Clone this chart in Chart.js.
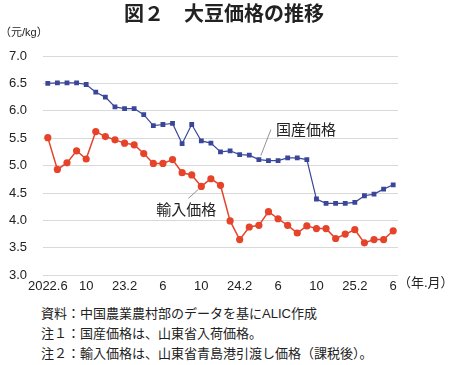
<!DOCTYPE html>
<html>
<head>
<meta charset="utf-8">
<script src="https://cdn.jsdelivr.net/npm/chart.js@4"></script>
<style>
  body { margin: 0; background: #fff; }
  #wrap { position: relative; width: 450px; height: 365px; }
  #chart { position: absolute; left: 0; top: 0; }
  .note { position: absolute; left: 41px; font: 13px "Liberation Sans", "Noto Sans CJK JP", sans-serif; color: #222; white-space: nowrap; }
</style>
</head>
<body>
<div id="wrap">
  <canvas id="chart" width="450" height="299"></canvas>
  <div class="note" style="top:303px">資料：中国農業農村部のデータを基にALIC作成</div>
  <div class="note" style="top:323px">注１：国産価格は、山東省入荷価格。</div>
  <div class="note" style="top:343px">注２：輸入価格は、山東省青島港引渡し価格（課税後）。</div>
</div>
<script>
const MONTHS = [
  '2022.6', '2022.7', '2022.8', '2022.9', '2022.10', '2022.11', '2022.12',
  '2023.1', '2023.2', '2023.3', '2023.4', '2023.5', '2023.6', '2023.7', '2023.8', '2023.9', '2023.10', '2023.11', '2023.12',
  '2024.1', '2024.2', '2024.3', '2024.4', '2024.5', '2024.6', '2024.7', '2024.8', '2024.9', '2024.10', '2024.11', '2024.12',
  '2025.1', '2025.2', '2025.3', '2025.4', '2025.5', '2025.6',
];
const TICK_LABELS = ['2022.6', '10', '23.2', '6', '10', '24.2', '6', '10', '25.2', '6'];

// 国産価格 (元/kg)
const DOMESTIC = [
  6.50, 6.51, 6.51, 6.51, 6.48, 6.34, 6.25, 6.07, 6.04, 6.04, 5.93, 5.73, 5.75, 5.77, 5.40, 5.75,
  5.45, 5.41, 5.25, 5.27, 5.20, 5.19, 5.11, 5.09, 5.09, 5.14, 5.14, 5.11,
  4.39, 4.31, 4.31, 4.31, 4.33, 4.45, 4.48, 4.57, 4.65,
];
// 輸入価格 (元/kg)
const IMPORTED = [
  5.51, 4.93, 5.05, 5.27, 5.12, 5.62, 5.53, 5.47, 5.41, 5.38, 5.22, 5.04, 5.04, 5.11, 4.87, 4.83,
  4.62, 4.76, 4.64, 3.99, 3.65, 3.88, 3.91, 4.16, 4.03, 3.91, 3.77, 3.90,
  3.85, 3.85, 3.67, 3.75, 3.83, 3.59, 3.65, 3.65, 3.81,
];

const BLUE = '#3a4799';
const RED = '#e5432a';
const FONT = '"Liberation Sans", "Noto Sans CJK JP", sans-serif';

const extras = {
  id: 'extras',
  afterDraw(chart) {
    const ctx = chart.ctx;
    const area = chart.chartArea;
    ctx.save();
    ctx.fillStyle = '#222';
    ctx.textBaseline = 'middle';

    // title
    ctx.font = 'bold 20px "Noto Sans CJK JP", sans-serif';
    ctx.textAlign = 'center';
    ctx.fillText('図２　大豆価格の推移', 224, 13);

    // units
    ctx.font = '11px ' + FONT;
    ctx.textAlign = 'left';
    ctx.fillText('（元/kg）', 0, 33);
    ctx.font = '13px ' + FONT;
    ctx.fillText('（年.月）', area.right, 283);

    // series labels with leader lines
    const dom = chart.getDatasetMeta(0).data[22];
    const imp = chart.getDatasetMeta(1).data[16];
    ctx.strokeStyle = '#777';
    ctx.lineWidth = 0.8;
    ctx.beginPath();
    ctx.moveTo(dom.x + 2, dom.y - 4);
    ctx.lineTo(dom.x + 12, dom.y - 30);
    ctx.moveTo(imp.x - 3, imp.y + 3);
    ctx.lineTo(imp.x - 13, imp.y + 12);
    ctx.stroke();
    ctx.font = '15px ' + FONT;
    ctx.fillText('国産価格', dom.x + 17, dom.y - 29);
    ctx.fillText('輸入価格', imp.x - 45, imp.y + 24);
    ctx.restore();
  },
};

new Chart(document.getElementById('chart'), {
  type: 'line',
  data: {
    labels: MONTHS,
    datasets: [
      {
        label: '国産価格',
        data: DOMESTIC,
        borderColor: BLUE,
        backgroundColor: BLUE,
        borderWidth: 1.2,
        pointStyle: 'rect',
        pointRadius: 3.4,
        pointBorderWidth: 0,
        tension: 0,
      },
      {
        label: '輸入価格',
        data: IMPORTED,
        borderColor: RED,
        backgroundColor: RED,
        borderWidth: 1.5,
        pointStyle: 'circle',
        pointRadius: 3.6,
        pointBorderWidth: 0,
        tension: 0,
      },
    ],
  },
  options: {
    responsive: false,
    animation: false,
    layout: { padding: { top: 56, right: 52, left: 0, bottom: 2 } },
    plugins: { legend: { display: false }, tooltip: { enabled: false } },
    scales: {
      x: {
        offset: true,
        grid: { display: false, drawTicks: false },
        border: { display: false },
        ticks: {
          autoSkip: false,
          maxRotation: 0,
          padding: 3,
          color: '#222',
          font: { family: FONT, size: 13 },
          callback: (v, i) => (i % 4 === 0 ? TICK_LABELS[i / 4] : ''),
        },
      },
      y: {
        min: 3,
        max: 7,
        afterFit: (s) => { s.width = 43; },
        grid: { color: '#d9d9d9', lineWidth: 1, drawTicks: false },
        border: { display: false },
        ticks: {
          stepSize: 0.5,
          padding: 16,
          color: '#222',
          font: { family: FONT, size: 13 },
          callback: (v) => Number(v).toFixed(1),
        },
      },
    },
  },
  plugins: [extras],
});
</script>
</body>
</html>
